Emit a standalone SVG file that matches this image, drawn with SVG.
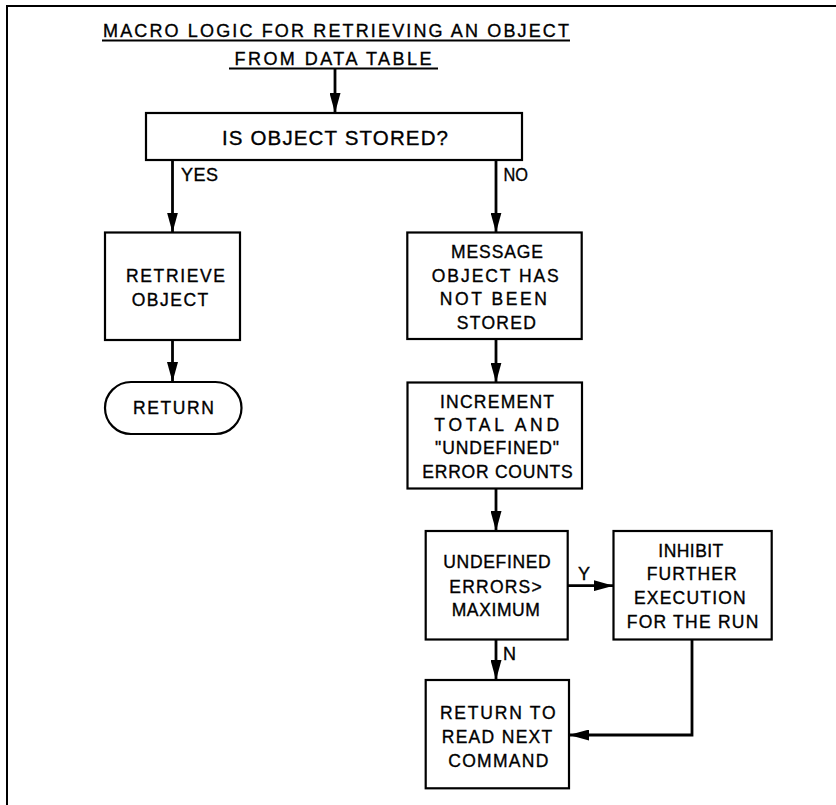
<svg xmlns="http://www.w3.org/2000/svg" width="836" height="805" viewBox="0 0 836 805">
<style>
  .box{fill:#fff;stroke:#000;stroke-width:2.2}
  .frame{fill:none;stroke:#000;stroke-width:2}
  .conn{fill:none;stroke:#000;stroke-width:2.8;stroke-linejoin:miter}
  text{font-family:"Liberation Sans",Arial,sans-serif;fill:#000;stroke:#000;stroke-width:0.35}
  .t{font-size:17.5px;text-anchor:middle}
  .lbl{font-size:18px}
  .title{font-size:18px;text-anchor:middle}
  .ul{stroke:#000;stroke-width:2}
</style>
<defs>
  <marker id="ah" markerUnits="userSpaceOnUse" markerWidth="20" markerHeight="11" refX="20" refY="5.5" orient="auto">
    <path d="M0,0 L20,5.5 L0,11 z" fill="#000"/>
  </marker>
</defs>
<rect width="836" height="805" fill="#fff"/>
<path class="frame" d="M7,805 L7,6 L836,6"/>

<g id="title">
  <text class="title" x="336" y="37" textLength="466" lengthAdjust="spacing">MACRO LOGIC FOR RETRIEVING AN OBJECT</text>
  <line class="ul" x1="102" y1="40.5" x2="570" y2="40.5"/>
  <text class="title" x="333" y="65" textLength="197" lengthAdjust="spacing">FROM DATA TABLE</text>
  <line class="ul" x1="229" y1="68.5" x2="438" y2="68.5"/>
</g>

<g id="connectors">
  <path class="conn" d="M335,69 L335,113" marker-end="url(#ah)"/>
  <path class="conn" d="M172.5,160 L172.5,232.5" marker-end="url(#ah)"/>
  <path class="conn" d="M496,160 L496,232.5" marker-end="url(#ah)"/>
  <path class="conn" d="M172.5,340 L172.5,382" marker-end="url(#ah)"/>
  <path class="conn" d="M496,339 L496,382.5" marker-end="url(#ah)"/>
  <path class="conn" d="M496,488.5 L496,531" marker-end="url(#ah)"/>
  <path class="conn" d="M568,585.7 L613.5,585.7" marker-end="url(#ah)"/>
  <path class="conn" d="M496,639.5 L496,680" marker-end="url(#ah)"/>
  <path class="conn" d="M692,639.5 L692,735 L569,735" marker-end="url(#ah)"/>
  <text class="lbl" x="181" y="181" textLength="37" lengthAdjust="spacing">YES</text>
  <text class="lbl" x="503.5" y="181" textLength="24.5" lengthAdjust="spacingAndGlyphs">NO</text>
  <text class="lbl" x="578" y="580">Y</text>
  <text class="lbl" x="503" y="659.5">N</text>
</g>

<g id="decision">
  <rect class="box" x="146" y="113" width="376" height="47"/>
  <text x="335" y="145" style="font-size:20.5px;text-anchor:middle" textLength="226" lengthAdjust="spacing">IS OBJECT STORED?</text>
</g>

<g id="retrieve">
  <rect class="box" x="105" y="232.5" width="135" height="107.5"/>
  <text class="t" x="175.5" y="282" textLength="99" lengthAdjust="spacing">RETRIEVE</text>
  <text class="t" x="170" y="306" textLength="76.6" lengthAdjust="spacing">OBJECT</text>
</g>

<g id="return">
  <rect class="box" x="105" y="382" width="136.5" height="52" rx="26" ry="26"/>
  <text class="t" x="173.5" y="414" textLength="81" lengthAdjust="spacing">RETURN</text>
</g>

<g id="message">
  <rect class="box" x="407.3" y="232.5" width="174.4" height="106.5"/>
  <text class="t" x="497" y="257.7" textLength="92" lengthAdjust="spacing">MESSAGE</text>
  <text class="t" x="495.3" y="282.3" textLength="127" lengthAdjust="spacing">OBJECT HAS</text>
  <text class="t" x="493.3" y="305" textLength="107" lengthAdjust="spacing">NOT BEEN</text>
  <text class="t" x="496.3" y="329" textLength="79" lengthAdjust="spacing">STORED</text>
</g>

<g id="increment">
  <rect class="box" x="407.5" y="382.5" width="174.5" height="106"/>
  <text class="t" x="497" y="408.3" textLength="114" lengthAdjust="spacing">INCREMENT</text>
  <text class="t" x="496.7" y="431" textLength="124.7" lengthAdjust="spacing">TOTAL  AND</text>
  <text class="t" x="497" y="454.3" textLength="124" lengthAdjust="spacing">"UNDEFINED"</text>
  <text class="t" x="497.5" y="477.7" textLength="150.4" lengthAdjust="spacing">ERROR COUNTS</text>
</g>

<g id="undefined">
  <rect class="box" x="425.7" y="531" width="142" height="108.5"/>
  <text class="t" x="497" y="568.3" textLength="107.4" lengthAdjust="spacing">UNDEFINED</text>
  <text class="t" x="495.5" y="592.7" textLength="92.4" lengthAdjust="spacing">ERRORS&gt;</text>
  <text class="t" x="495.8" y="616" textLength="88.3" lengthAdjust="spacing">MAXIMUM</text>
</g>

<g id="inhibit">
  <rect class="box" x="613.5" y="531" width="158.2" height="108.5"/>
  <text class="t" x="690.8" y="556.7" textLength="65" lengthAdjust="spacing">INHIBIT</text>
  <text class="t" x="691.7" y="580" textLength="90" lengthAdjust="spacing">FURTHER</text>
  <text class="t" x="689.8" y="604" textLength="111.7" lengthAdjust="spacing">EXECUTION</text>
  <text class="t" x="692.5" y="628.3" textLength="131.6" lengthAdjust="spacing">FOR THE RUN</text>
</g>

<g id="returnto">
  <rect class="box" x="425.7" y="680" width="143.3" height="108.3"/>
  <text class="t" x="497.8" y="719" textLength="115.7" lengthAdjust="spacing">RETURN  TO</text>
  <text class="t" x="497" y="743.3" textLength="110.6" lengthAdjust="spacing">READ NEXT</text>
  <text class="t" x="498.3" y="766.7" textLength="100" lengthAdjust="spacing">COMMAND</text>
</g>
</svg>
